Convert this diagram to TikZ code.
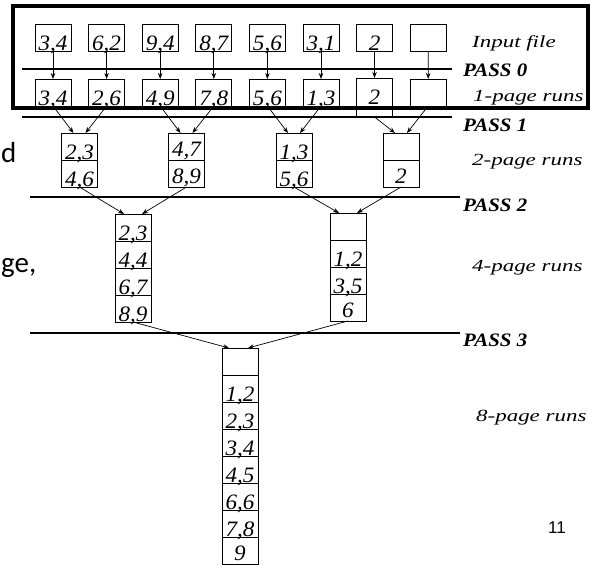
\documentclass[tikz,border=0pt]{standalone}
\usepackage{fontspec}
\setmainfont{Liberation Serif}
\newfontfamily\numfont[FakeStretch=1.05]{Liberation Serif}
\newfontfamily\runfont[FakeStretch=1.35]{Liberation Serif}
\newfontfamily\passfont[FakeStretch=1.1]{Liberation Serif}
\newfontfamily\slidefont{Carlito}
\newfontfamily\pagenofont{Liberation Sans}
\usetikzlibrary{arrows.meta,positioning}

\begin{document}
\begin{tikzpicture}
  [
  x=1pt, y=-1pt,
  page/.style={draw, line width=0.9pt, minimum width=36pt, minimum height=27pt, inner sep=0pt, outer sep=0pt,
    text height=26pt, text depth=1pt, font=\numfont\itshape\fontsize{22}{22}\selectfont},
  raised/.style={text height=23pt, text depth=4pt},
  tallpage/.style={page, minimum height=39pt, text height=26pt, text depth=13pt},
  arr/.style={draw, -{Stealth[length=6pt,width=4.5pt]}, line width=0.7pt},
  passline/.style={line width=2.4pt},
  passlbl/.style={anchor=west, inner sep=0pt, font=\passfont\bfseries\itshape\fontsize{19}{19}\selectfont},
  runlbl/.style={anchor=west, inner sep=0pt, font=\runfont\itshape\fontsize{17}{17}\selectfont},
  slidetxt/.style={inner sep=0pt, font=\slidefont\fontsize{29}{29}\selectfont}
  ]
  \useasboundingbox (0,0) rectangle (595,565);

  % input file and 1-page runs
  \draw[line width=4pt] (13,6) rectangle (588,108);
  \foreach \v [count=\i] in {{3,4},{6,2},{9,4},{8,7},{5,6},{3,1},{2},{}}
    \node[page] (in\i) at ({53.6*\i-0.6},38) {\v};
  \foreach \v [count=\i] in {{3,4},{2,6},{4,9},{7,8},{5,6},{1,3}}
    \node[page] (run\i) at ({53.6*\i-0.6},92.5) {\v};
  \node[tallpage] (run7) at (374.5,97.5) {2};
  \node[page] (run8) at (428.2,92.5) {};
  \foreach \i in {1,...,8}
    \draw[arr] (in\i.south) -- (run\i.north);

  % 2-page runs
  \node[page] (a1) at (79.5,146.5) {2,3};
  \node[page, below=0pt of a1] (a2) {4,6};
  \node[page, raised] (b1) at (186.5,146.5) {4,7};
  \node[page, raised, below=0pt of b1] (b2) {8,9};
  \node[page] (c1) at (294,146.5) {1,3};
  \node[page, below=0pt of c1] (c2) {5,6};
  \node[page] (d1) at (401,146.5) {};
  \node[page, raised, below=0pt of d1] (d2) {2};
  \foreach \l/\r/\p in {1/2/a,3/4/b,5/6/c,7/8/d} {
    \draw[arr] (run\l.south) -- ([xshift=-6pt]\p1.north);
    \draw[arr] (run\r.south) -- ([xshift=6pt]\p1.north);
  }

  % 4-page runs
  \foreach \v [count=\i] in {{2,3},{4,4},{6,7},{8,9}}
    \node[page] (e\i) at (133,{200.5+27*\i}) {\v};
  \foreach \v [count=\i] in {{},{1,2},{3,5}}
    \node[page] (f\i) at (348,{199.5+27*\i}) {\v};
  \node[page, raised, below=0pt of f3] (f4) {6};
  \draw[arr] (a2.south) -- ([xshift=-9pt]e1.north);
  \draw[arr] (b2.south) -- ([xshift=9pt]e1.north);
  \draw[arr] (c2.south) -- ([xshift=-9pt]f1.north);
  \draw[arr] (d2.south) -- ([xshift=9pt]f1.north);

  % 8-page run
  \foreach \v [count=\i] in {{},{1,2},{2,3},{3,4},{4,5},{6,6},{7,8}}
    \node[page] (g\i) at (240,{334.5+27*\i}) {\v};
  \node[page, raised, below=0pt of g7] (g8) {9};
  \draw[arr] (e4.south) -- ([xshift=-11pt]g1.north);
  \draw[arr] (f4.south) -- ([xshift=8pt]g1.north);

  % passes
  \draw[passline] (22,69) -- (452,69);
  \draw[passline] (22,117) -- (452,117);
  \draw[passline] (30,197) -- (460,197);
  \draw[passline] (30,333) -- (460,333);
  \node[passlbl] (pass0) at (463,70) {PASS 0};
  \node[passlbl] (pass1) at (463,125) {PASS 1};
  \node[passlbl] (pass2) at (463,205) {PASS 2};
  \node[passlbl] (pass3) at (463,340) {PASS 3};
  \node[runlbl] (inlbl) at (472,43) {Input file};
  \node[runlbl] (lbl1) at (473,98) {1-page runs};
  \node[runlbl] (lbl2) at (472,162) {2-page runs};
  \node[runlbl] (lbl4) at (472,268) {4-page runs};
  \node[runlbl] (lbl8) at (476,418) {8-page runs};

  % slide leftovers
  \node[slidetxt, anchor=base west] (frag1) at (1,162) {d};
  \node[slidetxt, anchor=base west] (frag2) at (1,272) {ge,};
  \node[anchor=base east, inner sep=0pt, font=\pagenofont\fontsize{17}{17}\selectfont] (pageno) at (566,533) {11};
\end{tikzpicture}
\end{document}
